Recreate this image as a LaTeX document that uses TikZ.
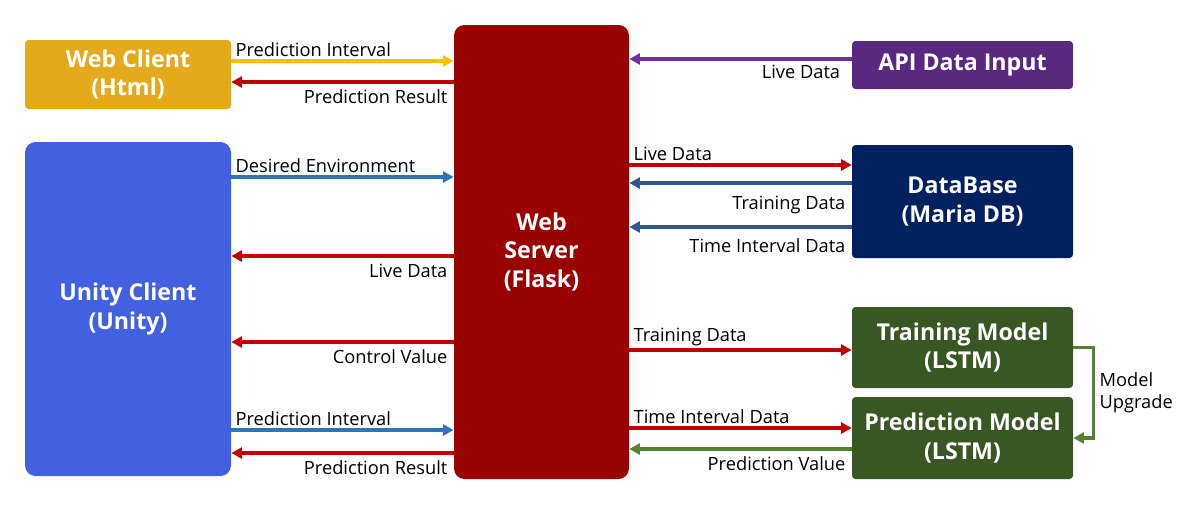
\documentclass[tikz,border=0pt]{standalone}
\usepackage{fontspec}
\setmainfont{Open Sans}
\usepackage{xcolor}
\usetikzlibrary{arrows.meta}
\definecolor{webgold}{HTML}{E4AA1C}
\definecolor{unityblue}{HTML}{4161E0}
\definecolor{serverred}{HTML}{990000}
\definecolor{apipurple}{HTML}{5A287F}
\definecolor{dbnavy}{HTML}{002060}
\definecolor{lstmgreen}{HTML}{385723}
\definecolor{linkyellow}{HTML}{FFC000}
\definecolor{linkred}{HTML}{C00000}
\definecolor{linkblue}{HTML}{2E75B6}
\definecolor{linknavy}{HTML}{2F5597}
\definecolor{linkpurple}{HTML}{7030A0}
\definecolor{linkgreen}{HTML}{548235}

\begin{document}
\begin{tikzpicture}[x=0.02cm,y=-0.02cm,
  box/.style={fill=#1,text=white,font=\fontsize{13.2}{16}\selectfont\bfseries,align=center,inner sep=0pt,rounded corners=2pt},
  bigbox/.style={box=#1,rounded corners=6pt},
  link/.style={draw=#1,line width=1.9pt,-{Triangle[length=6pt,width=6.2pt]}},
  lbl/.style={font=\fontsize{10.4}{12}\selectfont,inner sep=2.6pt}]
\useasboundingbox (0,0) rectangle (1191,508);
\node[box=webgold,minimum width=206*0.02cm,minimum height=69*0.02cm] (webclient) at (128,74.5) {Web Client\\(Html)};
\node[bigbox=unityblue,minimum width=206*0.02cm,minimum height=334*0.02cm] (unity) at (128,309) {Unity Client\\(Unity)};
\node[bigbox=serverred,minimum width=175*0.02cm,minimum height=454*0.02cm] (server) at (541.5,252) {Web\\Server\\(Flask)};
\node[box=apipurple,minimum width=221*0.02cm,minimum height=48*0.02cm] (api) at (962.5,65) {API Data Input};
\node[box=dbnavy,minimum width=221*0.02cm,minimum height=113*0.02cm] (db) at (962.5,201.5) {DataBase\\(Maria DB)};
\node[box=lstmgreen,minimum width=221*0.02cm,minimum height=81*0.02cm] (train) at (962.5,347.5) {Training Model\\(LSTM)};
\node[box=lstmgreen,minimum width=221*0.02cm,minimum height=82*0.02cm] (pred) at (962.5,438) {Prediction Model\\(LSTM)};

\draw[link=linkyellow] (webclient.east |- 0,61) -- (server.west |- 0,61) node[lbl,at start,anchor=south west,inner sep=1.5pt]{Prediction Interval};
\draw[link=linkred] (server.west |- 0,82) -- (webclient.east |- 0,82) node[lbl,at start,anchor=north east,yshift=-1pt]{Prediction Result};
\draw[link=linkblue] (unity.east |- 0,177) -- (server.west |- 0,177) node[lbl,at start,anchor=south west,inner sep=1.5pt]{Desired Environment};
\draw[link=linkred] (server.west |- 0,256) -- (unity.east |- 0,256) node[lbl,at start,anchor=north east,yshift=-1pt]{Live Data};
\draw[link=linkred] (server.west |- 0,342) -- (unity.east |- 0,342) node[lbl,at start,anchor=north east,yshift=-1pt]{Control Value};
\draw[link=linkblue] (unity.east |- 0,430) -- (server.west |- 0,430) node[lbl,at start,anchor=south west,inner sep=1.5pt]{Prediction Interval};
\draw[link=linkred] (server.west |- 0,453) -- (unity.east |- 0,453) node[lbl,at start,anchor=north east,yshift=-1pt]{Prediction Result};

\draw[link=linkpurple] (api.west |- 0,59) -- (server.east |- 0,59) node[lbl,at start,anchor=north east,xshift=-3pt]{Live Data};
\draw[link=linkred] (server.east |- 0,165) -- (db.west |- 0,165) node[lbl,at start,anchor=south west,inner sep=1.5pt]{Live Data};
\draw[link=linknavy] (db.west |- 0,183) -- (server.east |- 0,183) node[lbl,at start,anchor=north east,yshift=-4pt]{Training Data};
\draw[link=linknavy] (db.west |- 0,227) -- (server.east |- 0,227) node[lbl,at start,anchor=north east,yshift=-3pt]{Time Interval Data};
\draw[link=linkred] (server.east |- 0,350) -- (train.west |- 0,350) node[lbl,at start,anchor=south west,inner sep=1.5pt]{Training Data};
\draw[link=linkred] (server.east |- 0,428) -- (pred.west |- 0,428) node[lbl,at start,anchor=south west,inner sep=1.5pt]{Time Interval Data};
\draw[link=linkgreen] (pred.west |- 0,449) -- (server.east |- 0,449) node[lbl,at start,anchor=north east,yshift=-1pt]{Prediction Value};

\draw[link=linkgreen] (train.east) -- ++(20,0) coordinate (bend) -- node[lbl,right,align=left,xshift=0pt]{Model\\Upgrade} (bend |- pred.east) -- (pred.east);
\end{tikzpicture}
\end{document}
